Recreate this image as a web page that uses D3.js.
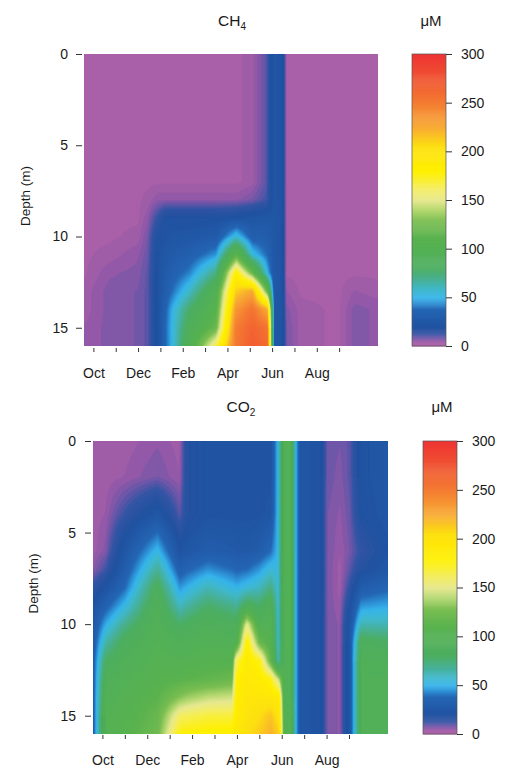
<!DOCTYPE html>
<html><head><meta charset="utf-8">
<script src="https://cdn.jsdelivr.net/npm/d3@7"></script>
<style>
body{margin:0;background:#fff}
text{font-family:"Liberation Sans",Arial,sans-serif;fill:#1a1a1a}
</style>
</head><body>
<svg id="chart" width="513" height="768"></svg>
<script>
// ---------- data ----------
const depths = [0, 2, 4, 6, 7, 8, 9, 10, 11, 12, 13, 14, 15, 16];
const timeDomain = [-0.42, 12.74]; // months after 1 Oct (Oct = 0)
const monthLabels = ["Oct","Nov","Dec","Jan","Feb","Mar","Apr","May","Jun","Jul","Aug","Sep"];
const depthTicks = [0, 5, 10, 15];
const colorTicks = [0, 50, 100, 150, 200, 250, 300];

// CH4 profiles (µM), one array per sampling time, values at `depths`
const ch4Times = [-0.42, 0.7, 2.0, 2.45, 2.9, 3.2, 3.5, 4.3, 5.5, 6.4, 7.1, 7.76, 8.07, 8.45, 8.62, 9.3, 11.0, 11.7, 12.74];
const ch4Profiles = [
  [3,3,3,3,3,3,3,3,3,3,4,4,5,5],
  [3,3,3,3,3,3,3,3,4,6,7,7,7,7],
  [3,3,3,3,3,3,3,4,6,7,8,8,8,8],
  [3,3,3,3,3,4,6,8,9,10,10,10,10,10],
  [3,3,3,3,3,6,14,20,22,22,22,22,22,22],
  [3,3,3,3,3,6,20,22,25,28,30,34,36,36],
  [3,3,3,3,3,6,20,24,28,32,38,48,50,50],
  [3,3,3,3,3,6,20,25,32,42,58,78,88,95],
  [3,3,3,3,3,6,20,28,45,72,98,108,120,165],
  [3,3,3,3,3,6,22,55,112,182,212,235,250,252],
  [4,4,4,4,4,8,24,32,55,120,225,255,265,270],
  [10,10,10,10,10,12,26,30,38,52,120,225,255,262],
  [24,24,24,24,24,24,25,26,26,27,28,28,28,28],
  [22,22,22,22,22,22,22,22,22,22,22,22,22,22],
  [3,3,3,3,3,3,3,3,3,3,5,7,8,8],
  [3,3,3,3,3,3,3,3,3,3,3,4,4,4],
  [3,3,3,3,3,3,3,3,3,3,3,3,3,3],
  [3,3,3,3,3,3,3,3,3,3,5,7,7,7],
  [3,3,3,3,3,3,3,3,3,3,4,6,6,6]
];

// CO2 profiles (µM)
const co2Times = [-0.42, 0.15, 1.0, 2.45, 3.45, 3.8, 4.7, 5.8, 6.0, 6.45, 7.0, 7.5, 7.85, 8.1, 8.4, 8.6, 8.85, 9.7, 10.0, 10.6, 11.05, 11.55, 12.74];
const co2Profiles = [
  [4,4,4,4,6,14,22,26,28,30,30,30,30,30],
  [4,4,5,7,12,22,34,48,64,80,90,96,100,100],
  [4,5,13,25,30,38,52,70,85,92,98,102,105,108],
  [6,8,25,52,68,84,92,96,100,102,106,112,118,122],
  [4,5,10,22,32,45,60,78,92,100,110,130,160,178],
  [18,18,18,25,36,50,66,82,94,102,112,135,163,180],
  [22,22,22,30,44,62,78,90,98,105,115,142,168,182],
  [22,22,22,28,38,52,70,85,95,105,120,145,168,185],
  [22,22,22,27,36,50,68,84,100,165,180,184,188,195],
  [22,22,22,26,38,55,85,150,182,188,192,196,200,205],
  [22,22,22,30,45,60,78,95,120,175,188,196,205,212],
  [22,22,24,38,55,72,90,100,105,115,175,195,215,222],
  [52,52,52,52,53,54,55,55,55,60,140,190,200,212],
  [95,95,95,95,95,95,95,95,95,95,95,95,98,100],
  [95,95,95,95,95,95,95,95,95,95,95,95,98,100],
  [52,52,52,52,52,52,52,52,52,52,52,52,52,52],
  [24,24,24,24,24,24,24,24,24,24,24,24,24,24],
  [22,22,22,22,22,22,22,22,22,22,22,22,22,22],
  [9,9,8,8,8,8,8,8,8,8,8,8,8,8],
  [8,7,6,5,4,4,5,6,6,6,6,6,6,6],
  [10,10,9,8,10,14,20,24,26,26,26,26,26,26],
  [22,22,20,14,18,30,45,62,85,92,92,92,92,92],
  [25,25,25,22,26,36,48,62,80,90,92,92,92,92]
];

// colour map
const colorStops = [0,3,6,9,13,20,38,45,50,58,68,80,110,128,140,150,162,180,205,225,250,275,300];
const colorHex = ["#b062aa","#a960a8","#9058a8","#6a56a8","#3454a4","#2052a0","#2466b4","#2e94d8","#36b4ea","#40b8cc","#48b098","#4cae60","#58b24e","#7abe52","#b4d870","#e6e890","#f4ee60","#fff000","#fde010","#f8aa34","#f47c32","#f05432","#ee3434"];

// ---------- drawing ----------
const color = d3.scaleLinear().domain(colorStops).range(colorHex).interpolate(d3.interpolateRgb).clamp(true);
const svg = d3.select("#chart");

function interp(times, profiles, t, d) {
  let i = d3.bisectRight(times, t) - 1;
  i = Math.max(0, Math.min(times.length - 2, i));
  let j = d3.bisectRight(depths, d) - 1;
  j = Math.max(0, Math.min(depths.length - 2, j));
  const ft = Math.max(0, Math.min(1, (t - times[i]) / (times[i+1] - times[i])));
  const fd = Math.max(0, Math.min(1, (d - depths[j]) / (depths[j+1] - depths[j])));
  const a = profiles[i][j], b = profiles[i+1][j], c = profiles[i][j+1], e = profiles[i+1][j+1];
  return (a*(1-ft) + b*ft)*(1-fd) + (c*(1-ft) + e*ft)*fd;
}

const levelStep = 1.5;
const levels = d3.range(0.4, 300, levelStep);

function panel(cfg) {
  const g = svg.append("g");
  const x = d3.scaleLinear().domain(timeDomain).range([cfg.x0, cfg.x1]);
  const y = d3.scaleLinear().domain([0, 16]).range([cfg.y0, cfg.y1]);
  const nx = Math.round(cfg.x1 - cfg.x0), ny = Math.round(cfg.y1 - cfg.y0);
  const grid = new Float64Array(nx * ny);
  for (let j = 0; j < ny; j++) {
    const d = (j + 0.5) / ny * 16;
    for (let i = 0; i < nx; i++) {
      const t = timeDomain[0] + (i + 0.5) / nx * (timeDomain[1] - timeDomain[0]);
      grid[j * nx + i] = interp(cfg.times, cfg.profiles, t, d);
    }
  }
  const contours = d3.contours().size([nx, ny]).thresholds(levels)(grid);
  const proj = d3.geoTransform({
    point(px, py) {
      const t = timeDomain[0] + px / nx * (timeDomain[1] - timeDomain[0]);
      const d = py / ny * 16;
      this.stream.point(x(t), y(d));
    }
  });
  const path = d3.geoPath(proj);
  const clipId = "clip" + cfg.id;
  svg.append("clipPath").attr("id", clipId).append("rect")
    .attr("x", cfg.x0).attr("y", cfg.y0).attr("width", cfg.x1 - cfg.x0).attr("height", cfg.y1 - cfg.y0);
  g.append("g").attr("clip-path", `url(#${clipId})`)
    .selectAll("path").data(contours).join("path")
    .attr("d", path)
    .attr("fill", c => color(c.value + levelStep / 2))
    .attr("stroke", c => color(c.value + levelStep / 2))
    .attr("stroke-width", 0.8)
    .attr("stroke-linejoin", "round");

  // y axis
  const ya = g.append("g").attr("transform", `translate(${cfg.yAxisX},0)`)
    .call(d3.axisLeft(y).tickValues(depthTicks).tickSize(6).tickPadding(cfg.yPad));
  ya.select(".domain").remove();
  ya.selectAll("line").attr("stroke", "#333");
  ya.selectAll("text").style("font-size", "14px").attr("fill", "#1a1a1a");

  // x axis
  const xa = g.append("g").attr("transform", `translate(0,${cfg.xAxisY})`)
    .call(d3.axisBottom(x).tickValues(d3.range(monthLabels.length)).tickSize(4).tickPadding(16)
      .tickFormat((v, i) => i % 2 === 0 ? monthLabels[i] : ""));
  xa.select(".domain").remove();
  xa.selectAll("line").attr("stroke", "#333");
  xa.selectAll("text").style("font-size", "14px").attr("fill", "#1a1a1a");

  // depth label
  g.append("text")
    .attr("transform", `translate(${cfg.labelX},${(cfg.y0 + cfg.y1) / 2 - 4}) rotate(-90)`)
    .attr("text-anchor", "middle").style("font-size", "13.5px").text("Depth (m)");

  // title
  const tt = g.append("text").attr("x", cfg.titleX).attr("y", cfg.titleY)
    .attr("text-anchor", "middle").style("font-size", "15.5px");
  tt.append("tspan").text(cfg.title[0]);
  tt.append("tspan").attr("dy", 4).style("font-size", "10px").text(cfg.title[1]);

  // colour bar
  const cy = d3.scaleLinear().domain([0, 300]).range([cfg.y1, cfg.y0]);
  const cb = g.append("g");
  cb.selectAll("rect").data(d3.range(0, 300, 1)).join("rect")
    .attr("x", cfg.cbX).attr("width", cfg.cbW)
    .attr("y", v => cy(v + 1)).attr("height", v => cy(v) - cy(v + 1) + 0.5)
    .attr("fill", v => color(v + 0.5));
  cb.append("rect").attr("x", cfg.cbX).attr("y", cy(300)).attr("width", cfg.cbW)
    .attr("height", cy(0) - cy(300)).attr("fill", "none").attr("stroke", "#555").attr("stroke-width", 0.7);
  const ca = cb.append("g").attr("transform", `translate(${cfg.cbX + cfg.cbW},0)`)
    .call(d3.axisRight(cy).tickValues(colorTicks).tickSize(6).tickPadding(9));
  ca.select(".domain").remove();
  ca.selectAll("line").attr("stroke", "#333");
  ca.selectAll("text").style("font-size", "14px").attr("fill", "#1a1a1a");
  g.append("text").attr("x", cfg.cbX + cfg.cbW / 2 + 2).attr("y", cfg.titleY)
    .attr("text-anchor", "middle").style("font-size", "15px").text("μM");
}

panel({id: 1, times: ch4Times, profiles: ch4Profiles, title: ["CH", "4"],
  x0: 84, x1: 378, y0: 54, y1: 346, yAxisX: 82, yPad: 8, xAxisY: 348,
  labelX: 30, titleX: 232, titleY: 26, cbX: 412, cbW: 34});
panel({id: 2, times: co2Times, profiles: co2Profiles, title: ["CO", "2"],
  x0: 93, x1: 388, y0: 441, y1: 734, yAxisX: 91, yPad: 9, xAxisY: 735,
  labelX: 38, titleX: 241, titleY: 412, cbX: 423, cbW: 34});
</script>
</body></html>
